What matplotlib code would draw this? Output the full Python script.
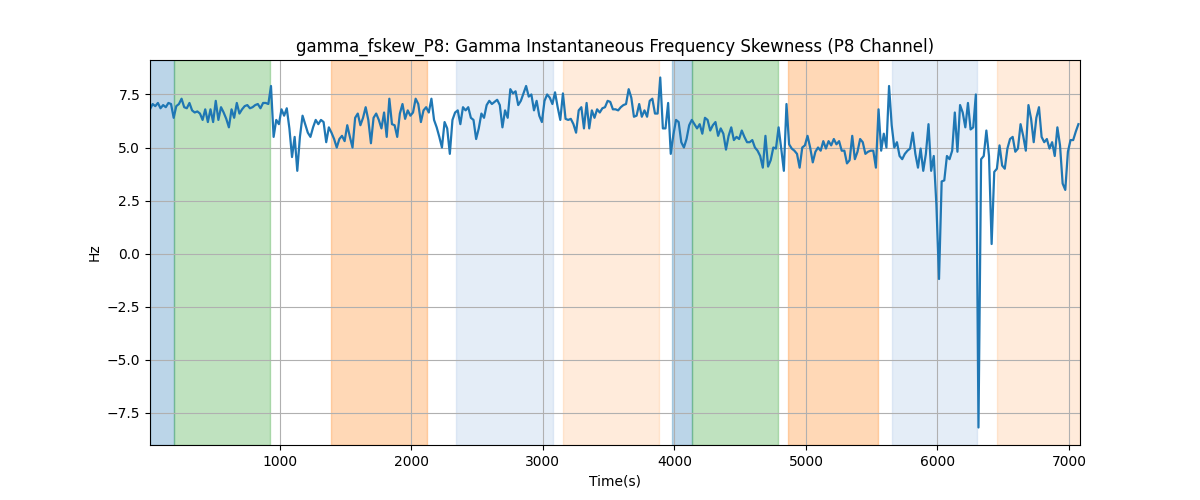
import matplotlib
matplotlib.use('Agg')
import matplotlib.pyplot as plt
import numpy as np

# gamma skewness values, one every 20 s
row0 = [6.8, 7.05, 6.95, 7.1, 6.85, 7.0, 6.9, 7.1, 7.05, 6.4, 6.95, 7.05, 7.3, 6.9, 6.85, 7.1, 6.75, 6.65, 6.7, 6.6, 6.3, 6.8, 6.2, 6.8, 6.2]
row1 = [7.2, 6.3, 6.9, 6.65, 6.35, 5.95, 6.8, 6.4, 7.1, 6.6, 6.8, 6.95, 7.0, 6.85, 6.9, 7.0, 7.05, 6.85, 7.1, 7.1, 7.05, 7.9, 5.5, 6.3, 6.1]
row2 = [6.8, 6.5, 6.85, 5.9, 4.55, 5.5, 3.9, 5.5, 6.5, 6.1, 5.7, 5.5, 5.95, 6.3, 6.1, 6.3, 6.2, 5.25, 5.95, 5.7, 5.4, 5.0, 5.4, 5.55, 5.3]
row3 = [6.05, 5.5, 5.0, 6.4, 6.6, 6.05, 6.4, 6.9, 6.3, 5.2, 6.4, 6.6, 6.3, 5.9, 6.65, 5.5, 7.3, 6.1, 6.05, 5.5, 6.6, 7.05, 6.35, 6.75, 6.5]
row4 = [6.65, 7.3, 7.05, 6.2, 6.75, 6.9, 6.65, 7.3, 6.3, 5.95, 5.5, 5.0, 6.2, 5.9, 4.7, 6.3, 6.65, 6.75, 6.1, 6.9, 6.75, 6.9, 6.4, 6.3, 5.4]
row5 = [5.9, 6.6, 6.4, 7.0, 7.2, 7.05, 7.15, 7.25, 7.0, 5.95, 6.75, 6.4, 7.75, 7.55, 7.65, 7.0, 7.2, 7.55, 7.9, 7.4, 7.5, 6.75, 7.2, 6.5, 6.2]
row6 = [7.2, 7.5, 7.35, 7.05, 7.6, 6.9, 6.3, 7.55, 6.35, 6.3, 6.35, 6.1, 5.7, 6.75, 6.9, 5.9, 7.1, 5.9, 6.75, 6.4, 6.8, 6.65, 6.85, 6.9, 7.2]
row7 = [7.15, 6.8, 6.8, 6.75, 6.9, 7.0, 7.05, 7.75, 7.35, 6.45, 6.5, 7.05, 6.45, 6.75, 6.45, 7.2, 7.3, 6.6, 6.6, 8.3, 5.9, 5.9, 7.1, 4.7, 5.6]
row8 = [6.3, 6.2, 5.25, 5.0, 5.4, 6.05, 6.3, 6.1, 5.9, 6.1, 5.65, 6.4, 6.3, 5.8, 6.05, 6.2, 5.55, 5.9, 5.65, 4.9, 5.55, 5.95, 5.35, 5.5, 5.4]
row9 = [5.8, 5.5, 5.25, 5.25, 5.35, 5.0, 4.85, 4.6, 4.05, 5.55, 4.1, 4.4, 5.0, 4.95, 5.95, 4.95, 3.9, 7.05, 5.15, 4.95, 4.85, 4.7, 4.05, 5.0, 5.1]
row10 = [5.55, 5.0, 4.3, 4.8, 5.0, 4.85, 5.3, 4.95, 5.3, 5.1, 5.4, 5.15, 5.3, 4.85, 4.85, 4.25, 4.4, 5.55, 4.45, 4.8, 5.4, 5.25, 4.7, 4.8, 4.85]
row11 = [4.85, 4.05, 6.8, 4.85, 5.65, 5.0, 7.9, 6.05, 5.0, 5.25, 4.6, 4.45, 4.7, 4.85, 4.95, 5.7, 4.7, 4.05, 4.95, 3.9, 4.7, 6.1, 3.9, 4.6, 2.3]
row12 = [-1.2, 3.4, 3.45, 4.6, 4.45, 4.85, 6.65, 4.8, 7.0, 6.65, 5.95, 7.1, 5.85, 5.95, 7.5, -8.2, 4.45, 4.6, 5.8, 4.6, 0.45, 3.85, 4.0, 5.1, 4.15]
row13 = [4.0, 4.95, 5.4, 5.5, 4.8, 4.95, 6.1, 5.55, 4.85, 7.0, 6.35, 5.25, 6.4, 6.9, 5.5, 5.25, 5.4, 4.95, 5.25, 4.6, 5.95, 5.1, 3.3, 3.0, 4.8]
row14 = [5.35, 5.35, 5.75, 6.1]

values = np.array(row0 + row1 + row2 + row3 + row4 + row5 + row6 + row7
                  + row8 + row9 + row10 + row11 + row12 + row13 + row14)
time = 12 + 20 * np.arange(len(values))

# shaded segments (start, end, colour, alpha)
span_starts = [11, 194, 1389, 2339, 3152, 3981, 4133, 4863, 5654, 6452]
span_ends = [194, 925, 2119, 3077, 3882, 4133, 4787, 5548, 6300, 7084]
span_colors = ['tab:blue', 'tab:green', 'tab:orange', '#aec7e8', 'tab:orange',
               'tab:blue', 'tab:green', 'tab:orange', '#aec7e8', 'tab:orange']
span_alphas = [0.3, 0.3, 0.3, 0.32, 0.15, 0.3, 0.3, 0.3, 0.32, 0.15]

fig, ax = plt.subplots(figsize=(12, 5), dpi=100)
for s, e, c, a in zip(span_starts, span_ends, span_colors, span_alphas):
    ax.axvspan(s, e, color=c, alpha=a)
ax.plot(time, values, color='tab:blue', linewidth=1.6)
ax.set_xlim(time[0], 7084)
ax.set_title('gamma_fskew_P8: Gamma Instantaneous Frequency Skewness (P8 Channel)')
ax.set_xlabel('Time(s)')
ax.set_ylabel('Hz')
ax.grid(True)
plt.savefig('out.png')
plt.close()
